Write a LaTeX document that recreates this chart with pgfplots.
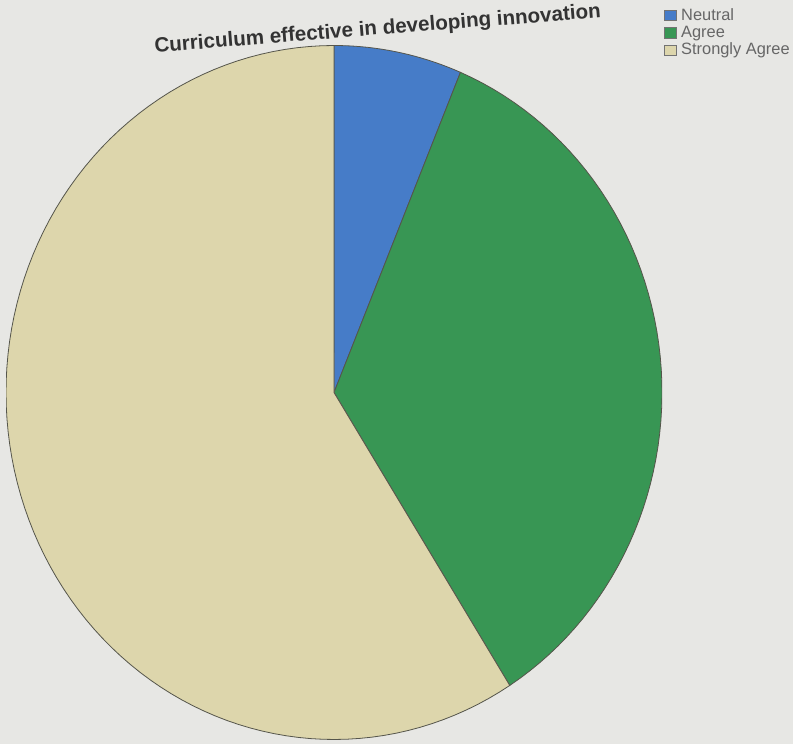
\documentclass[border=0pt]{standalone}
\usepackage{pgfplots}
\pgfplotsset{compat=1.18}
\usepackage{fontspec}
\setmainfont{Liberation Sans}
\definecolor{neutralc}{RGB}{70,124,200}
\definecolor{agreec}{RGB}{56,150,84}
\definecolor{stronglyc}{RGB}{221,214,172}
\definecolor{bgc}{RGB}{231,231,228}
\definecolor{edgec}{RGB}{85,85,75}

% share of answers (percent)
\def\pNeutral{6.3}
\def\pAgree{34.7}
\def\pStrongly{59}

\begin{document}
\begin{tikzpicture}
\fill[bgc] (0pt,0pt) rectangle (396.5pt,372pt);
\path[use as bounding box] (0pt,0pt) rectangle (396.5pt,372pt);
\clip (0pt,0pt) rectangle (396.5pt,372pt);
\pgfmathsetmacro{\aA}{3.6*\pNeutral}
\pgfmathsetmacro{\aB}{3.6*(\pNeutral+\pAgree)}
\pgfmathsetmacro{\aC}{3.6*(\pNeutral+\pAgree+\pStrongly)}
\begin{axis}[
    at={(167pt,175.75pt)}, anchor=center,
    scale only axis, width=328pt, height=347pt,
    xmin=-1, xmax=1, ymin=-1, ymax=1,
    hide axis,
    legend image code/.code={\draw[#1, draw=black!55] (0pt,-2.6pt) rectangle (6pt,2.6pt);},
    legend style={at={(1.003,1.06)}, anchor=north west, draw=none, fill=none,
        font=\fontsize{8.2}{9}\selectfont, row sep=-2.6pt, inner sep=0pt,
        text=black!60, cells={anchor=west}},
]
\addplot[fill=neutralc, draw=edgec, thin, domain=0:\aA, samples=20, variable=\t]
    ({sin(\t)}, {cos(\t)}) -- (axis cs:0,0) -- cycle;
\addlegendentry{Neutral}
\addplot[fill=agreec, draw=edgec, thin, domain=\aA:\aB, samples=60, variable=\t]
    ({sin(\t)}, {cos(\t)}) -- (axis cs:0,0) -- cycle;
\addlegendentry{Agree}
\addplot[fill=stronglyc, draw=edgec, thin, domain=\aB:\aC, samples=100, variable=\t]
    ({sin(\t)}, {cos(\t)}) -- (axis cs:0,0) -- cycle;
\addlegendentry{Strongly Agree}
\end{axis}
\node[anchor=base west, rotate=4.5, font=\bfseries\fontsize{10.3}{12}\selectfont, text=black!80]
    at (74pt,345.5pt) {Curriculum effective in developing innovation};
\end{tikzpicture}
\end{document}
